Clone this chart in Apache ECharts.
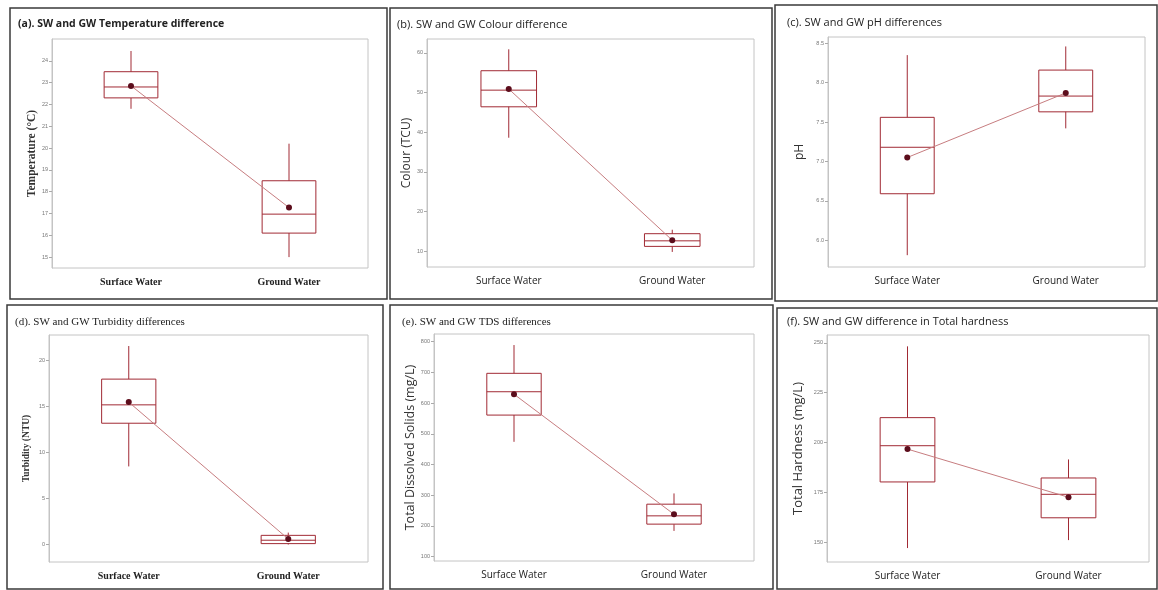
<!DOCTYPE html>
<html><head><meta charset="utf-8">
<script src="https://cdn.jsdelivr.net/npm/echarts@6/dist/echarts.min.js"></script>
<style>html,body{margin:0;padding:0;background:#fff}#c{width:1158px;height:590px}</style>
</head><body><div id="c"></div>
<script>
// ---- data ----
const categories = ['Surface Water', 'Ground Water'];
// [min, Q1, median, Q3, max]
const tempBox = [[21.8, 22.3, 22.8, 23.5, 24.45], [15.0, 16.1, 16.97, 18.5, 20.2]];
const tempMean = [22.85, 17.27];
const tempTicks = [15, 16, 17, 18, 19, 20, 21, 22, 23, 24];

const colourBox = [[38.6, 46.4, 50.6, 55.5, 60.9], [9.8, 11.2, 12.6, 14.4, 15.4]];
const colourMean = [50.9, 12.75];
const colourTicks = [10, 20, 30, 40, 50, 60];

const phBox = [[5.81, 6.59, 7.18, 7.56, 8.35], [7.42, 7.63, 7.83, 8.16, 8.46]];
const phMean = [7.05, 7.87];
const phTicks = [6.0, 6.5, 7.0, 7.5, 8.0, 8.5];

const turbBox = [[8.5, 13.2, 15.2, 18.0, 21.6], [0.0, 0.1, 0.47, 1.0, 1.3]];
const turbMean = [15.5, 0.6];
const turbTicks = [0, 5, 10, 15, 20];

const tdsBox = [[474, 561, 637, 697, 789], [184, 206, 233, 271, 306]];
const tdsMean = [629, 238];
const tdsTicks = [100, 200, 300, 400, 500, 600, 700, 800];

const hardBox = [[147, 180.2, 198.4, 212.5, 248.3], [151, 162.2, 174.0, 182.2, 191.5]];
const hardMean = [196.7, 172.5];
const hardTicks = [150, 175, 200, 225, 250];

// ---- panel layout ----
const SANS = '"Open Sans", "Noto Sans", sans-serif';
const SERIF = '"Liberation Serif", "DejaVu Serif", serif';
const panels = [
  {title: '(a). SW and GW Temperature difference', tfont: SANS, tw: 'bold', tsize: 10.5, tx: 13, ty: 14,
   yname: 'Temperature (°C)', yfont: SERIF, yw: 'bold', ysize: 11.5, gap: 14, xfont: SERIF, xw: 'bold',
   grid: {left: 52, top: 39, width: 316, height: 229}, min: 14.5, max: 25.0, ticks: tempTicks, box: tempBox, mean: tempMean, dec: 0},
  {title: '(b). SW and GW Colour difference', tfont: SANS, tw: 'normal', tsize: 11, tx: 392, ty: 14,
   yname: 'Colour (TCU)', yfont: SANS, yw: 'normal', ysize: 12, gap: 9, xfont: SANS, xw: 'normal',
   grid: {left: 427, top: 39, width: 327, height: 228}, min: 6, max: 63.5, ticks: colourTicks, box: colourBox, mean: colourMean, dec: 0},
  {title: '(c). SW and GW pH differences', tfont: SANS, tw: 'normal', tsize: 11, tx: 782, ty: 12,
   yname: 'pH', yfont: SANS, yw: 'normal', ysize: 12, gap: 22, xfont: SANS, xw: 'normal',
   grid: {left: 828, top: 37, width: 317, height: 230}, min: 5.66, max: 8.58, ticks: phTicks, box: phBox, mean: phMean, dec: 1},
  {title: '(d). SW and GW Turbidity differences', tfont: SERIF, tw: 'normal', tsize: 11, tx: 10, ty: 312,
   yname: 'Turbidity (NTU)', yfont: SERIF, yw: 'bold', ysize: 9.5, gap: 17, xfont: SERIF, xw: 'bold',
   grid: {left: 49, top: 335, width: 319, height: 227}, min: -1.9, max: 22.8, ticks: turbTicks, box: turbBox, mean: turbMean, dec: 0},
  {title: '(e). SW and GW TDS differences', tfont: SERIF, tw: 'normal', tsize: 11, tx: 397, ty: 312,
   yname: 'Total Dissolved Solids (mg/L)', yfont: SANS, yw: 'normal', ysize: 12.5, gap: 16, xfont: SANS, xw: 'normal',
   grid: {left: 434, top: 334, width: 320, height: 227}, min: 86, max: 825, ticks: tdsTicks, box: tdsBox, mean: tdsMean, dec: 0},
  {title: '(f). SW and GW difference in Total hardness', tfont: SANS, tw: 'normal', tsize: 11, tx: 782, ty: 311,
   yname: 'Total Hardness (mg/L)', yfont: SANS, yw: 'normal', ysize: 13, gap: 22, xfont: SANS, xw: 'normal',
   grid: {left: 827, top: 335, width: 322, height: 227}, min: 140, max: 254, ticks: hardTicks, box: hardBox, mean: hardMean, dec: 0}
];
const frames = [
  [10, 8, 377, 291], [390, 8, 382, 291], [775, 5, 382, 296],
  [7, 305, 376, 284], [390, 305, 383, 284], [777, 308, 380, 281]
];

const BOX = '#a12a34';
const MEAN = '#5c0d1c';
const LINK = '#c77d80';

function renderBox(params, api) {
  const xi = api.value(0);
  const pMin = api.coord([xi, api.value(1)]);
  const pQ1 = api.coord([xi, api.value(2)]);
  const pMed = api.coord([xi, api.value(3)]);
  const pQ3 = api.coord([xi, api.value(4)]);
  const pMax = api.coord([xi, api.value(5)]);
  const hw = api.size([1, 0])[0] * 0.34 / 2;
  const st = {stroke: BOX, lineWidth: 1};
  return {type: 'group', children: [
    {type: 'line', shape: {x1: pMin[0], y1: pMin[1], x2: pMax[0], y2: pMax[1]}, style: st},
    {type: 'rect', shape: {x: pQ3[0] - hw, y: pQ3[1], width: hw * 2, height: pQ1[1] - pQ3[1]}, style: {fill: '#fff', stroke: BOX, lineWidth: 1}},
    {type: 'line', shape: {x1: pMed[0] - hw, y1: pMed[1], x2: pMed[0] + hw, y2: pMed[1]}, style: st}
  ]};
}

const option = {animation: false, backgroundColor: '#fff', title: [], grid: [], xAxis: [], yAxis: [], series: [], graphic: []};
panels.forEach((p, i) => {
  option.title.push({text: p.title, left: p.tx, top: p.ty, textStyle: {fontFamily: p.tfont, fontWeight: p.tw, fontSize: p.tsize, color: '#222'}});
  option.grid.push(Object.assign({show: true, borderColor: '#c4c4c4', borderWidth: 1, backgroundColor: '#fff'}, p.grid));
  option.xAxis.push({type: 'category', gridIndex: i, data: categories, boundaryGap: true,
    axisLine: {show: false}, axisTick: {show: false},
    axisLabel: {fontFamily: p.xfont, fontWeight: p.xw, fontSize: 10, color: '#222', margin: 9}});
  option.yAxis.push({type: 'value', gridIndex: i, min: p.min, max: p.max, splitLine: {show: false},
    name: p.yname, nameLocation: 'middle', nameGap: p.gap,
    nameTextStyle: {fontFamily: p.yfont, fontWeight: p.yw, fontSize: p.ysize, color: '#333'},
    axisLine: {show: true, lineStyle: {color: '#c4c4c4'}},
    axisTick: {show: true, length: 3, lineStyle: {color: '#aaa'}, customValues: p.ticks},
    axisLabel: {fontSize: 5.5, color: '#777', margin: 4, customValues: p.ticks, formatter: v => v.toFixed(p.dec)}});
  option.series.push({type: 'custom', xAxisIndex: i, yAxisIndex: i, renderItem: renderBox,
    encode: {x: 0, y: [1, 2, 3, 4, 5]},
    data: p.box.map((b, k) => [k].concat(b)), z: 2});
  option.series.push({type: 'line', xAxisIndex: i, yAxisIndex: i, data: p.mean, symbol: 'circle', symbolSize: 6,
    lineStyle: {color: LINK, width: 1}, itemStyle: {color: MEAN}, z: 3});
});
frames.forEach(f => option.graphic.push({type: 'rect', shape: {x: f[0], y: f[1], width: f[2], height: f[3]}, style: {fill: 'none', stroke: '#3a3a3a', lineWidth: 1.5}, z: 10}));

const chart = echarts.init(document.getElementById('c'), null, {renderer: 'canvas'});
chart.setOption(option);
</script></body></html>
